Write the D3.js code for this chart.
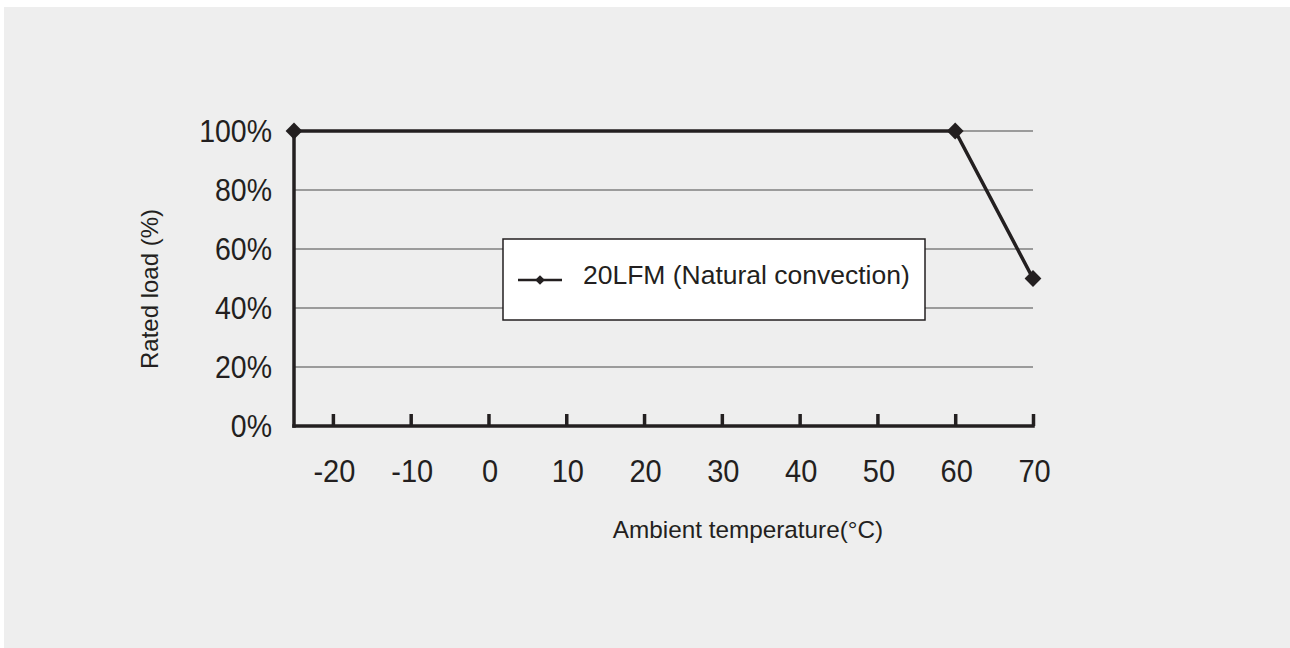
<!DOCTYPE html>
<html>
<head>
<meta charset="utf-8">
<script src="https://cdn.jsdelivr.net/npm/d3@7"></script>
<style>
  body { margin: 0; background: #fff; }
  svg { display: block; font-family: "Liberation Sans", Arial, sans-serif; }
</style>
</head>
<body>
<svg width="1290" height="648"></svg>
<script>
// data
const temps = [-25, 60, 70];
const loads = [100, 100, 50];
const xTicks = [-20, -10, 0, 10, 20, 30, 40, 50, 60, 70];
const yTicks = [0, 20, 40, 60, 80, 100];
const seriesName = "20LFM (Natural convection)";

const svg = d3.select("svg");

svg.append("rect")
    .attr("x", 4).attr("y", 7)
    .attr("width", 1286).attr("height", 641)
    .attr("fill", "#eeeeee");

const x = d3.scaleLinear().domain([-25, 70]).range([294, 1033]);
const y = d3.scaleLinear().domain([0, 100]).range([426, 131]);

const ink = "#231f20";

// gridlines
svg.append("g")
    .selectAll("line").data(yTicks.filter(d => d > 0))
    .join("line")
    .attr("x1", x(-25)).attr("x2", x(70))
    .attr("y1", d => y(d)).attr("y2", d => y(d))
    .attr("stroke", "#7f7f7f")
    .attr("stroke-width", 1.5);

// x axis
let xAxis = svg.append("g")
    .attr("transform", `translate(0,${y(0)})`)
    .call(d3.axisTop(x).tickValues(xTicks).tickSize(12).tickFormat(""));
xAxis.select(".domain").remove();
xAxis.selectAll(".tick line").attr("stroke", ink).attr("stroke-width", 3.5);

svg.append("line")
    .attr("x1", x(-25) - 1.75).attr("x2", x(70) + 1.75)
    .attr("y1", y(0)).attr("y2", y(0))
    .attr("stroke", ink).attr("stroke-width", 3.5);

svg.append("g")
    .selectAll("text").data(xTicks)
    .join("text")
    .attr("transform", d => `translate(${x(d) + 1.5},482) scale(1,1.1)`)
    .attr("text-anchor", "middle")
    .attr("font-size", 29)
    .attr("fill", ink)
    .text(d => d);

// y axis
svg.append("line")
    .attr("x1", x(-25)).attr("x2", x(-25))
    .attr("y1", y(100)).attr("y2", y(0) + 1.75)
    .attr("stroke", ink).attr("stroke-width", 3.5);

svg.append("g")
    .selectAll("text").data(yTicks)
    .join("text")
    .attr("transform", d => `translate(272,${y(d) + 11}) scale(1,1.1)`)
    .attr("text-anchor", "end")
    .attr("font-size", 28.5)
    .attr("fill", ink)
    .text(d => d + "%");

// axis titles
svg.append("text")
    .attr("transform", "translate(158,289) rotate(-90)")
    .attr("text-anchor", "middle")
    .attr("font-size", 24)
    .attr("fill", ink)
    .text("Rated load (%)");

svg.append("text")
    .attr("x", 748).attr("y", 538)
    .attr("text-anchor", "middle")
    .attr("font-size", 24.3)
    .attr("fill", ink)
    .text("Ambient temperature(°C)");

// series
const pts = temps.map((t, i) => [t, loads[i]]);

svg.append("path")
    .datum(pts)
    .attr("d", d3.line().x(d => x(d[0])).y(d => y(d[1])))
    .attr("fill", "none")
    .attr("stroke", ink)
    .attr("stroke-width", 3.5);

const diamond = d3.symbol().type(d3.symbolDiamond2).size(180);

svg.append("g")
    .selectAll("path").data(pts)
    .join("path")
    .attr("transform", d => `translate(${x(d[0])},${y(d[1])})`)
    .attr("d", diamond)
    .attr("fill", ink);

// legend
const lg = svg.append("g").attr("transform", "translate(503,239)");
lg.append("rect")
    .attr("width", 422).attr("height", 81)
    .attr("fill", "#fff")
    .attr("stroke", ink)
    .attr("stroke-width", 1.5);
lg.append("line")
    .attr("x1", 15).attr("x2", 59)
    .attr("y1", 41).attr("y2", 41)
    .attr("stroke", ink).attr("stroke-width", 2.5);
lg.append("path")
    .attr("transform", "translate(37,41)")
    .attr("d", d3.symbol().type(d3.symbolDiamond2).size(60))
    .attr("fill", ink);
lg.append("text")
    .attr("transform", "translate(80,45) scale(1,0.95)")
    .attr("font-size", 26.5)
    .attr("fill", ink)
    .text(seriesName);
</script>
</body>
</html>
